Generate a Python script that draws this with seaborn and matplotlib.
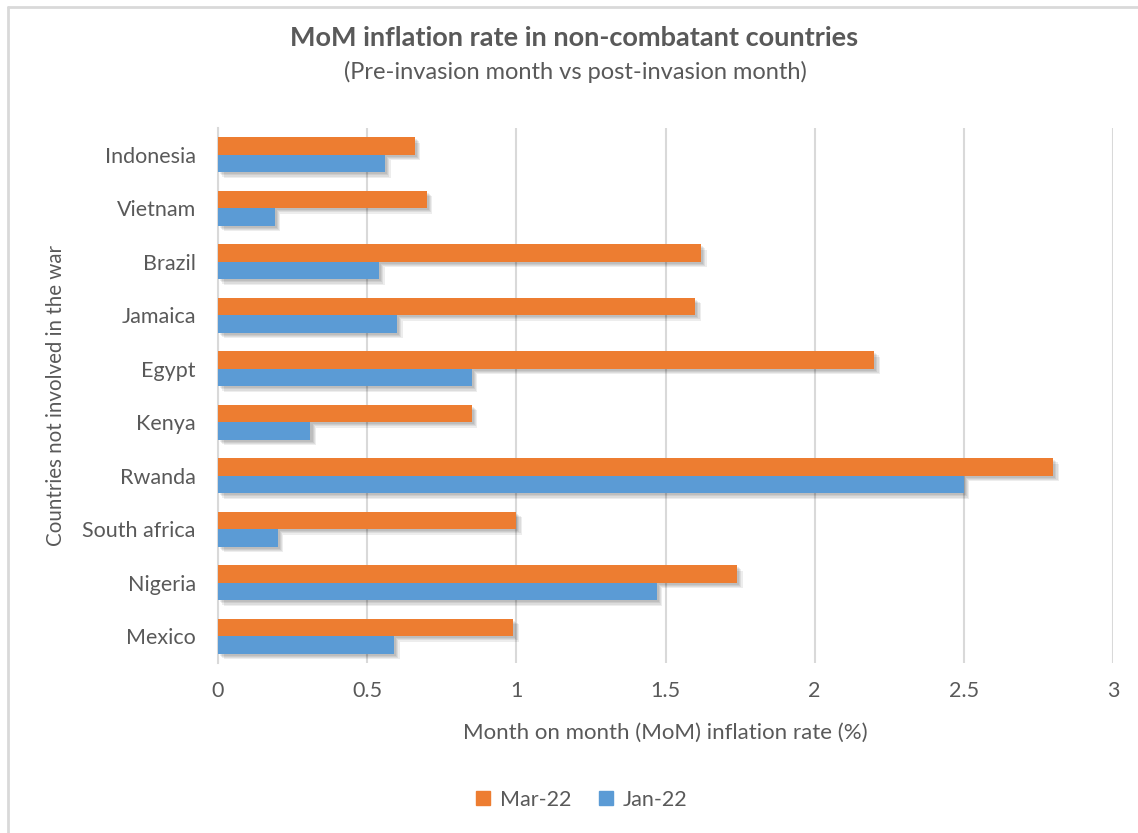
import matplotlib
matplotlib.use("Agg")
import matplotlib.pyplot as plt
import matplotlib.patheffects as pe
from matplotlib.lines import Line2D
import seaborn as sns
import pandas as pd

countries = ["Indonesia", "Vietnam", "Brazil", "Jamaica", "Egypt",
             "Kenya", "Rwanda", "South africa", "Nigeria", "Mexico"]
mar_22 = [0.66, 0.70, 1.62, 1.60, 2.20, 0.85, 2.80, 1.00, 1.74, 0.99]
jan_22 = [0.56, 0.19, 0.54, 0.60, 0.85, 0.31, 2.50, 0.20, 1.47, 0.59]
series = ["Mar-22", "Jan-22"]
x_ticks = [0, 0.5, 1, 1.5, 2, 2.5, 3]

df = pd.DataFrame({
    "country": countries * 2,
    "series": ["Mar-22"] * len(countries) + ["Jan-22"] * len(countries),
    "value": mar_22 + jan_22,
})

sns.set_theme(style="white")
plt.rcParams["font.family"] = ["Lato", "DejaVu Sans"]
text_color = "#595959"
colors = {"Mar-22": "#ED7D31", "Jan-22": "#5B9BD5"}

fig = plt.figure(figsize=(11.38, 8.33), dpi=100)
ax = fig.add_axes([218 / 1138, 1 - 663 / 833, (1113 - 218) / 1138, (663 - 128) / 833])

sns.barplot(data=df, y="country", x="value", hue="series", hue_order=series,
            order=countries, palette=colors, orient="h", width=0.66,
            ax=ax, legend=False, saturation=1, linewidth=0)

# soft drop shadow built from a few stacked offsets
shadow = [pe.SimplePatchShadow(offset=(o, -o), shadow_rgbFace="black", alpha=0.07)
          for o in (4, 3, 2.2, 1.5)] + [pe.Normal()]
for p in ax.patches:
    p.set_edgecolor("none")
    p.set_linewidth(0)
    p.set_path_effects(shadow)
    p.set_zorder(3)

ax.set_xlim(0, 3)
ax.set_xticks(x_ticks)
ax.set_xticklabels([f"{t:g}" for t in x_ticks])
ax.grid(axis="x", color="#d9d9d9", linewidth=1.5, zorder=0)
ax.set_axisbelow(True)
for s in ["top", "right", "bottom"]:
    ax.spines[s].set_visible(False)
ax.spines["left"].set_color("#d9d9d9")
ax.spines["left"].set_linewidth(1.5)
ax.tick_params(axis="both", length=0, colors=text_color, labelsize=15.5)
ax.tick_params(axis="x", pad=13)
ax.tick_params(axis="y", pad=16)

ax.set_xlabel("Month on month (MoM) inflation rate (%)", fontsize=16,
              color=text_color, labelpad=16)
ax.set_ylabel("Countries not involved in the war", fontsize=14.8,
              color=text_color, labelpad=12)

fig.text(574 / 1138, 1 - 38 / 833, "MoM inflation rate in non-combatant countries",
         ha="center", va="center", fontsize=19.5, fontweight="bold", color=text_color)
fig.text(575 / 1138, 1 - 72 / 833, "(Pre-invasion month vs post-invasion month)",
         ha="center", va="center", fontsize=17, color=text_color)

handles = [Line2D([0], [0], marker="s", linestyle="none", markersize=10,
                  markerfacecolor=colors[s], markeredgecolor=colors[s], label=s)
           for s in series]
fig.legend(handles=handles, loc="center", bbox_to_anchor=(581 / 1138, 1 - 800 / 833),
           ncol=2, frameon=False, fontsize=15.5, handlelength=0.8, handletextpad=0.4,
           columnspacing=1.2, labelcolor=text_color)

# chart area frame (left and top edges)
fig.add_artist(Line2D([8 / 1138, 8 / 1138], [0, 1 - 7 / 833], transform=fig.transFigure,
                      color="#d9d9d9", linewidth=2))
fig.add_artist(Line2D([8 / 1138, 1], [1 - 7 / 833, 1 - 7 / 833], transform=fig.transFigure,
                      color="#d9d9d9", linewidth=2))

fig.savefig("out.png", dpi=100, facecolor="white")
